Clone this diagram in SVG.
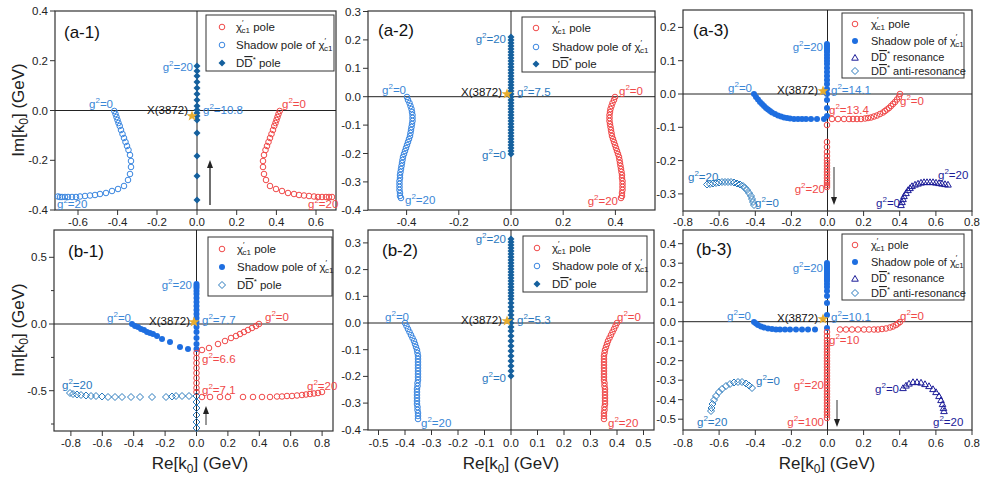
<svg xmlns="http://www.w3.org/2000/svg" width="981" height="480" viewBox="0 0 981 480">
<style>
text{font-family:"Liberation Sans",Arial,sans-serif}
.tk{font-size:11.5px;fill:#222}
.ye{text-anchor:end}
.xm{text-anchor:middle}
.fr{fill:none;stroke:#333;stroke-width:1.2}
.zl{stroke:#222;stroke-width:1;fill:none}
.tm{stroke:#333;stroke-width:1;fill:none}
.pl{font-size:17px;fill:#111}
.lb{font-size:11.5px}
.r{fill:#f04848}.b{fill:#3a86d6}.d{fill:#2a78be}.n{fill:#1c1c98}.k{fill:#111}
.e{text-anchor:end}
.s{fill:none;stroke:none}
.ro{marker-start:url(#mRo);marker-mid:url(#mRo);marker-end:url(#mRo)}
.bo{marker-start:url(#mBo);marker-mid:url(#mBo);marker-end:url(#mBo)}
.bf{marker-start:url(#mBf);marker-mid:url(#mBf);marker-end:url(#mBf)}
.df{marker-start:url(#mDf);marker-mid:url(#mDf);marker-end:url(#mDf)}
.do{marker-start:url(#mDo);marker-mid:url(#mDo);marker-end:url(#mDo)}
.to{marker-start:url(#mTo);marker-mid:url(#mTo);marker-end:url(#mTo)}
.lg{fill:#fff;stroke:#333;stroke-width:1}
.lt{font-size:11.5px;fill:#222}
.ax{font-size:17px;fill:#222}
.ar{stroke:#222;stroke-width:1.3;fill:none;marker-end:url(#ah)}
</style>
<defs>
<marker id="mRo" markerUnits="userSpaceOnUse" markerWidth="10" markerHeight="10" refX="5" refY="5" viewBox="0 0 10 10"><circle cx="5" cy="5" r="2.8" fill="none" stroke="#f04848" stroke-width="1"/></marker>
<marker id="mBo" markerUnits="userSpaceOnUse" markerWidth="10" markerHeight="10" refX="5" refY="5" viewBox="0 0 10 10"><circle cx="5" cy="5" r="2.8" fill="none" stroke="#3a86e0" stroke-width="1"/></marker>
<marker id="mBf" markerUnits="userSpaceOnUse" markerWidth="10" markerHeight="10" refX="5" refY="5" viewBox="0 0 10 10"><circle cx="5" cy="5" r="3" fill="#1e6ee0"/></marker>
<marker id="mDf" markerUnits="userSpaceOnUse" markerWidth="10" markerHeight="10" refX="5" refY="5" viewBox="0 0 10 10"><path d="M5 1.5 8.5 5 5 8.5 1.5 5Z" fill="#15609e"/></marker>
<marker id="mDo" markerUnits="userSpaceOnUse" markerWidth="10" markerHeight="10" refX="5" refY="5" viewBox="0 0 10 10"><path d="M5 1.5 8.5 5 5 8.5 1.5 5Z" fill="none" stroke="#2a7abd" stroke-width="1"/></marker>
<marker id="mTo" markerUnits="userSpaceOnUse" markerWidth="10" markerHeight="10" refX="5" refY="5" viewBox="0 0 10 10"><path d="M5 1.8 8.3 7.6 1.7 7.6Z" fill="none" stroke="#1c1c98" stroke-width="1"/></marker>
<marker id="ah" markerUnits="userSpaceOnUse" markerWidth="8" markerHeight="10" refX="4" refY="9" viewBox="0 0 8 10" orient="auto-start-reverse"><path d="M0 0" /></marker>
<path id="star" d="M0-5.5 1.5-1.7 5.5-1.7 2.3 0.7 3.4 4.6 0 2.3-3.4 4.6-2.3 0.7-5.5-1.7-1.5-1.7Z" fill="#e8ad2e"/>
</defs>
<rect width="981" height="480" fill="#fff"/>

<!-- axis titles -->
<text class="ax" transform="translate(24,110) rotate(-90)" text-anchor="middle">Im[k<tspan font-size="12" dy="4">0</tspan><tspan dy="-4">] (GeV)</tspan></text>
<text class="ax" transform="translate(24,330) rotate(-90)" text-anchor="middle">Im[k<tspan font-size="12" dy="4">0</tspan><tspan dy="-4">] (GeV)</tspan></text>
<text class="ax" x="200" y="469" text-anchor="middle">Re[k<tspan font-size="12" dy="4">0</tspan><tspan dy="-4">] (GeV)</tspan></text>
<text class="ax" x="511" y="469" text-anchor="middle">Re[k<tspan font-size="12" dy="4">0</tspan><tspan dy="-4">] (GeV)</tspan></text>
<text class="ax" x="827" y="469" text-anchor="middle">Re[k<tspan font-size="12" dy="4">0</tspan><tspan dy="-4">] (GeV)</tspan></text>

<!-- ===== a-1 ===== -->
<g id="a1-axes">
<rect class="fr" x="55" y="11" width="281" height="199"/>
<path class="zl" d="M55 110.5H336M197 11V210"/>
<path class="tm" d="M50 11H55M50 60.7H55M50 110.5H55M50 160.3H55M50 210H55M78 210V215M117.6 210V215M157 210V215M197 210V215M236.7 210V215M276.4 210V215M316 210V215"/>
<g class="tk ye"><text x="48" y="15">0.4</text><text x="48" y="64.7">0.2</text><text x="48" y="114.5">0.0</text><text x="48" y="164.3">-0.2</text><text x="48" y="214">-0.4</text></g>
<g class="tk xm"><text x="78" y="226">-0.6</text><text x="117.6" y="226">-0.4</text><text x="157" y="226">-0.2</text><text x="197" y="226">0.0</text><text x="236.7" y="226">0.2</text><text x="276.4" y="226">0.4</text><text x="316" y="226">0.6</text></g>
<text class="pl" x="64" y="38">(a-1)</text>
</g>
<g id="a1-data">
<polyline class="s bo" points="114.3,111 115.5,114 116.5,117 117.5,120 118.5,123 119.7,126 121,130 122.5,134 124,138 125.5,142 127,146 128.5,150 130,155 131,161 131,167 130,174 128,180 124,186 118,189 112,191 106,193 100,194 95,195 90,195.5 85,196 80,196.5 76,197 72,197 68,197 65,197 62,197 60,197 58,196.5"/>
<polyline class="s ro" points="279.7,111 278.5,114 277.5,117 276.5,120 275.5,123 274.3,126 273,130 271.5,134 270,138 268.5,142 267,146 265.5,150 264,155 263,161 263,167 264,174 266,180 270,186 276,189 282,191 288,193 294,194 299,195 304,195.5 309,196 314,196.5 318,197 322,197 326,197 329,197 332,197"/>
<polyline class="s df" points="197,200 197,176 197,156 197,133 197,120 197,116 197,113 197,110 197,106 197,100 197,94 197,88 197,82 197,76 197,71 197,66"/>
<use href="#star" x="192" y="116"/>
<text class="lb k e" x="188" y="114">X(3872)</text>
<text class="lb b" x="203" y="114">g<tspan font-size="8" dy="-5">2</tspan><tspan dy="5">=10.8</tspan></text>
<text class="lb b e" x="193" y="71">g<tspan font-size="8" dy="-5">2</tspan><tspan dy="5">=20</tspan></text>
<text class="lb b e" x="113" y="108">g<tspan font-size="8" dy="-5">2</tspan><tspan dy="5">=0</tspan></text>
<text class="lb b" x="57" y="208">g<tspan font-size="8" dy="-5">2</tspan><tspan dy="5">=20</tspan></text>
<text class="lb r" x="282" y="108">g<tspan font-size="8" dy="-5">2</tspan><tspan dy="5">=0</tspan></text>
<text class="lb r" x="308" y="208">g<tspan font-size="8" dy="-5">2</tspan><tspan dy="5">=20</tspan></text>
<path class="ar" d="M210 205V163"/><path d="M210 160l-3 8h6z" fill="#222"/>
</g>
<g id="a1-legend">
<rect class="lg" x="206" y="15" width="128" height="56"/>
<circle cx="222" cy="27" r="2.8" fill="none" stroke="#f04848"/>
<circle cx="222" cy="45" r="2.8" fill="none" stroke="#3a86e0"/>
<path d="M222 59.5 225.5 63 222 66.5 218.5 63Z" fill="#15609e"/>
<text class="lt" x="236" y="31">χ<tspan font-size="8" dy="-6">′</tspan><tspan font-size="8" dx="-2" dy="8">c1</tspan><tspan dy="-2"> pole</tspan></text>
<text class="lt" x="236" y="49">Shadow pole of χ<tspan font-size="8" dy="-6">′</tspan><tspan font-size="8" dx="-2" dy="8">c1</tspan></text>
<text class="lt" x="236" y="67">D<tspan text-decoration="overline">D</tspan><tspan font-size="8" dy="-5">*</tspan><tspan dy="5"> pole</tspan></text>
</g>

<!-- ===== a-2 ===== -->
<g id="a2-axes">
<rect class="fr" x="368" y="11" width="287" height="199"/>
<path class="zl" d="M368 96.7H655M511 11V210"/>
<path class="tm" d="M363 11.5H368M363 39.9H368M363 68.3H368M363 96.7H368M363 125.1H368M363 153.5H368M363 181.9H368M363 210.3H368M406.6 210V215M458.8 210V215M511 210V215M563.2 210V215M615.4 210V215"/>
<g class="tk ye"><text x="361" y="15.5">0.3</text><text x="361" y="43.9">0.2</text><text x="361" y="72.3">0.1</text><text x="361" y="100.7">0.0</text><text x="361" y="129.1">-0.1</text><text x="361" y="157.5">-0.2</text><text x="361" y="185.9">-0.3</text><text x="361" y="214">-0.4</text></g>
<g class="tk xm"><text x="406.6" y="226">-0.4</text><text x="458.8" y="226">-0.2</text><text x="511" y="226">0.0</text><text x="563.2" y="226">0.2</text><text x="615.4" y="226">0.4</text></g>
<text class="pl" x="378" y="36">(a-2)</text>
</g>
<g id="a2-data">
<polyline class="s bo" points="407,97 408,100 409.5,103 410.5,106 411.5,109 412,112 412.5,115 412.5,118 412.5,121 412,124 411.5,127 411,130 410.5,133 410,136 409,139 408,142 407,145 406,148 405,151 404,154 403,157 402.5,160 402,163 401.5,166 401,169 400.5,172 400,175 400,178 399.5,181 399.5,184 399.5,187 399.5,190 400,193 400,196 401,198"/>
<polyline class="s ro" points="615,97 614,100 612.5,103 611.5,106 610.5,109 610,112 609.5,115 609.5,118 609.5,121 610,124 610.5,127 611,130 611.5,133 612,136 613,139 614,142 615,145 616,148 617,151 618,154 619,157 619.5,160 620,163 620.5,166 621,169 621.5,172 622,175 622,178 622.5,181 622.5,184 622.5,187 622.5,190 622,193 622,196 621,198"/>
<polyline class="s df" points="511,154 511,151 511,148 511,145 511,142 511,139 511,136 511,133 511,130 511,127 511,124 511,121 511,118 511,115 511,112 511,109 511,106 511,103 511,100 511,97 511,94 511,91 511,88 511,85 511,82 511,79 511,76 511,73 511,70 511,67 511,64 511,61 511,58 511,55 511,52 511,49 511,46 511,43 511,40 511,37"/>
<use href="#star" x="507" y="94"/>
<text class="lb k e" x="502" y="96">X(3872)</text>
<text class="lb d" x="517" y="96">g<tspan font-size="8" dy="-5">2</tspan><tspan dy="5">=7.5</tspan></text>
<text class="lb d e" x="506" y="43">g<tspan font-size="8" dy="-5">2</tspan><tspan dy="5">=20</tspan></text>
<text class="lb d e" x="506" y="159">g<tspan font-size="8" dy="-5">2</tspan><tspan dy="5">=0</tspan></text>
<text class="lb b e" x="406" y="94">g<tspan font-size="8" dy="-5">2</tspan><tspan dy="5">=0</tspan></text>
<text class="lb b" x="405" y="204">g<tspan font-size="8" dy="-5">2</tspan><tspan dy="5">=20</tspan></text>
<text class="lb r" x="619" y="95">g<tspan font-size="8" dy="-5">2</tspan><tspan dy="5">=0</tspan></text>
<text class="lb r e" x="618" y="205">g<tspan font-size="8" dy="-5">2</tspan><tspan dy="5">=20</tspan></text>
</g>
<g id="a2-legend">
<rect class="lg" x="522" y="17" width="133" height="55"/>
<circle cx="536" cy="28" r="2.8" fill="none" stroke="#f04848"/>
<circle cx="536" cy="47" r="2.8" fill="none" stroke="#3a86e0"/>
<path d="M536 60.5 539.5 64 536 67.5 532.5 64Z" fill="#15609e"/>
<text class="lt" x="552" y="32">χ<tspan font-size="8" dy="-6">′</tspan><tspan font-size="8" dx="-2" dy="8">c1</tspan><tspan dy="-2"> pole</tspan></text>
<text class="lt" x="552" y="51">Shadow pole of χ<tspan font-size="8" dy="-6">′</tspan><tspan font-size="8" dx="-2" dy="8">c1</tspan></text>
<text class="lt" x="552" y="68">D<tspan text-decoration="overline">D</tspan><tspan font-size="8" dy="-5">*</tspan><tspan dy="5"> pole</tspan></text>
</g>

<!-- ===== a-3 ===== -->
<g id="a3-axes">
<rect class="fr" x="683" y="10" width="289" height="201"/>
<path class="zl" d="M683 94H972M827.5 10V211"/>
<path class="tm" d="M678 27.4H683M678 60.7H683M678 94H683M678 127.3H683M678 160.6H683M678 193.9H683M683 211V216M719.1 211V216M755.3 211V216M791.4 211V216M827.5 211V216M863.6 211V216M899.7 211V216M935.9 211V216M972 211V216"/>
<g class="tk ye"><text x="676" y="31.4">0.2</text><text x="676" y="64.7">0.1</text><text x="676" y="98">0.0</text><text x="676" y="131.3">-0.1</text><text x="676" y="164.6">-0.2</text><text x="676" y="197.9">-0.3</text></g>
<g class="tk xm"><text x="683" y="226">-0.8</text><text x="719.1" y="226">-0.6</text><text x="755.3" y="226">-0.4</text><text x="791.4" y="226">-0.2</text><text x="827.5" y="226">0.0</text><text x="863.6" y="226">0.2</text><text x="899.7" y="226">0.4</text><text x="935.9" y="226">0.6</text><text x="972" y="226">0.8</text></g>
<text class="pl" x="693" y="36">(a-3)</text>
</g>
<g id="a3-data">
<polyline class="s bf" points="754,94 756,97 758,99.5 760,102 762,104 764,106 766,108 768,109.5 770,111 772,112.5 775,114 778,115.5 781,116.5 784,117.5 787,118 790,118.5 794,119 798,119 802,119 806,119 811,119 817,119 824,119 827,116 827,108 827,100 827,94 827,89 827,84 827,80 827,76 827,72 827,68 827,64 827,61 827,58 827,55 827,52 827,50 827,48 827,46 827,44"/>
<polyline class="s ro" points="900,94 899,97 897,99.5 895,102 893,104 891,106 889,108 887,109.5 885,111 883,112.5 880,114 877,115.5 874,116.5 871,117.5 868,118 865,118.5 861,119 857,119 853,119 849,119 844,119 838,119 832,119 827,125 827,142 827,147 827,152 827,156 827,160 827,163 827,166 827,169 827,172 827,175 827,178 827,181 827,183 827,185 827,187"/>
<polyline class="s do" points="754,205 753,202 752,199 751,196 749,193 747,190 745,188 743,186 740,184.5 737,183.5 734,182.5 731,182 728,182 725,182 722,182 719,182.5 716,183 713,183.5 710,184 707,184.5"/>
<polyline class="s to" points="901,205 902,202 903,199 904,196 906,193 908,190 910,188 912,186 915,184.5 918,183.5 921,182.5 924,182 927,182 930,182 933,182 936,182.5 939,183 942,183.5 945,184 948,184.5"/>
<use href="#star" x="823" y="91"/>
<text class="lb k e" x="818" y="94">X(3872)</text>
<text class="lb b" x="831" y="94">g<tspan font-size="8" dy="-5">2</tspan><tspan dy="5">=14.1</tspan></text>
<text class="lb b e" x="823" y="51">g<tspan font-size="8" dy="-5">2</tspan><tspan dy="5">=20</tspan></text>
<text class="lb b e" x="752" y="92">g<tspan font-size="8" dy="-5">2</tspan><tspan dy="5">=0</tspan></text>
<text class="lb r" x="829" y="114">g<tspan font-size="8" dy="-5">2</tspan><tspan dy="5">=13.4</tspan></text>
<text class="lb r" x="900" y="105">g<tspan font-size="8" dy="-5">2</tspan><tspan dy="5">=0</tspan></text>
<text class="lb r e" x="825" y="193">g<tspan font-size="8" dy="-5">2</tspan><tspan dy="5">=20</tspan></text>
<text class="lb d" x="688" y="181">g<tspan font-size="8" dy="-5">2</tspan><tspan dy="5">=20</tspan></text>
<text class="lb d" x="755" y="207">g<tspan font-size="8" dy="-5">2</tspan><tspan dy="5">=0</tspan></text>
<text class="lb n e" x="900" y="207">g<tspan font-size="8" dy="-5">2</tspan><tspan dy="5">=0</tspan></text>
<text class="lb n" x="938" y="179">g<tspan font-size="8" dy="-5">2</tspan><tspan dy="5">=20</tspan></text>
<path class="tm" d="M834 167V199"/><path d="M834 205l-3-8h6z" fill="#222"/>
</g>
<g id="a3-legend">
<rect class="lg" x="842" y="13" width="122" height="65"/>
<circle cx="855" cy="24" r="2.8" fill="none" stroke="#f04848"/>
<circle cx="855" cy="41" r="3" fill="#1e6ee0"/>
<path d="M855 54.5 858.3 60.2 851.7 60.2Z" fill="none" stroke="#1c1c98"/>
<path d="M855 67.5 858.5 71 855 74.5 851.5 71Z" fill="none" stroke="#2a7abd"/>
<text class="lt" x="871" y="28" font-size="11">χ<tspan font-size="8" dy="-6">′</tspan><tspan font-size="8" dx="-2" dy="8">c1</tspan><tspan dy="-2"> pole</tspan></text>
<text class="lt" x="871" y="45" style="font-size:11px">Shadow pole of χ<tspan font-size="8" dy="-6">′</tspan><tspan font-size="8" dx="-2" dy="8">c1</tspan></text>
<text class="lt" x="871" y="61" style="font-size:11px">D<tspan text-decoration="overline">D</tspan><tspan font-size="8" dy="-5">*</tspan><tspan dy="5"> resonance</tspan></text>
<text class="lt" x="871" y="75" style="font-size:11px">D<tspan text-decoration="overline">D</tspan><tspan font-size="8" dy="-5">*</tspan><tspan dy="5"> anti-resonance</tspan></text>
</g>

<!-- ===== b-1 ===== -->
<g id="b1-axes">
<rect class="fr" x="54" y="230" width="279" height="201"/>
<path class="zl" d="M54 324H333M196.5 230V431"/>
<path class="tm" d="M49 257.3H54M49 324H54M49 390.7H54M51 290.6H54M51 357.4H54M51 424H54M70.9 431V436M102.3 431V436M133.7 431V436M165.1 431V436M196.5 431V436M227.9 431V436M259.3 431V436M290.7 431V436M322.1 431V436"/>
<g class="tk ye"><text x="47" y="261.3">0.5</text><text x="47" y="328">0.0</text><text x="47" y="394.7">-0.5</text></g>
<g class="tk xm"><text x="70.9" y="447">-0.8</text><text x="102.3" y="447">-0.6</text><text x="133.7" y="447">-0.4</text><text x="165.1" y="447">-0.2</text><text x="196.5" y="447">0.0</text><text x="227.9" y="447">0.2</text><text x="259.3" y="447">0.4</text><text x="290.7" y="447">0.6</text><text x="322.1" y="447">0.8</text></g>
<text class="pl" x="68" y="257">(b-1)</text>
</g>
<g id="b1-data">
<polyline class="s bf" points="132,324 135,326 138,327 141,329 144,330 147,332 150,333 153,334 157,336 162,339 170,342 180,347 188,349 196.5,349 196.5,344 196.5,338 196.5,332 196.5,327 196.5,322 196.5,318 196.5,314 196.5,310 196.5,306 196.5,302 196.5,298 196.5,294 196.5,291 196.5,288 196.5,286 196.5,284"/>
<polyline class="s ro" points="259,324 256,326 252,328 248,330 244,332 240,334 236,336 231,338 225,341 218,344 209,348 202,350 196.5,353 196.5,358 196.5,363 196.5,368 196.5,373 196.5,378 196.5,383 196.5,388 196.5,392"/>
<polyline class="s ro" points="202,397 210,397 220,397 228,397 243,397 253,397 262,397 270,397 277,396.5 282,396.5 287,396 292,396 297,395.5 302,395 306,394.5 310,394 314,393.5 318,393 322,392"/>
<polyline class="s do" points="70,393 73,394 77,394.5 81,395 86,395.5 91,396 96,396 102,396.5 108,397 115,397 122,397 131,397 140,397 152,397 166,397 172,396.5 176,396 182,396 189,396 196.5,396 196.5,402 196.5,408 196.5,415 196.5,422 196.5,428"/>
<use href="#star" x="194" y="322"/>
<text class="lb k e" x="190" y="325">X(3872)</text>
<text class="lb b" x="202" y="324">g<tspan font-size="8" dy="-5">2</tspan><tspan dy="5">=7.7</tspan></text>
<text class="lb b e" x="192" y="289">g<tspan font-size="8" dy="-5">2</tspan><tspan dy="5">=20</tspan></text>
<text class="lb b e" x="131" y="322">g<tspan font-size="8" dy="-5">2</tspan><tspan dy="5">=0</tspan></text>
<text class="lb d" x="62" y="389">g<tspan font-size="8" dy="-5">2</tspan><tspan dy="5">=20</tspan></text>
<text class="lb r" x="265" y="321">g<tspan font-size="8" dy="-5">2</tspan><tspan dy="5">=0</tspan></text>
<text class="lb r" x="202" y="363">g<tspan font-size="8" dy="-5">2</tspan><tspan dy="5">=6.6</tspan></text>
<text class="lb r" x="202" y="394">g<tspan font-size="8" dy="-5">2</tspan><tspan dy="5">=7.1</tspan></text>
<text class="lb r" x="307" y="390">g<tspan font-size="8" dy="-5">2</tspan><tspan dy="5">=20</tspan></text>
<path class="tm" d="M206 425V413"/><path d="M206 406l-3 8h6z" fill="#222"/>
</g>
<g id="b1-legend">
<rect class="lg" x="208" y="237" width="124" height="59"/>
<circle cx="222" cy="249" r="2.8" fill="none" stroke="#f04848"/>
<circle cx="222" cy="267" r="3" fill="#1e6ee0"/>
<path d="M222 281.5 225.5 285 222 288.5 218.5 285Z" fill="none" stroke="#2a7abd"/>
<text class="lt" x="237" y="253">χ<tspan font-size="8" dy="-6">′</tspan><tspan font-size="8" dx="-2" dy="8">c1</tspan><tspan dy="-2"> pole</tspan></text>
<text class="lt" x="237" y="271">Shadow pole of χ<tspan font-size="8" dy="-6">′</tspan><tspan font-size="8" dx="-2" dy="8">c1</tspan></text>
<text class="lt" x="237" y="289">D<tspan text-decoration="overline">D</tspan><tspan font-size="8" dy="-5">*</tspan><tspan dy="5"> pole</tspan></text>
</g>

<!-- ===== b-2 ===== -->
<g id="b2-axes">
<rect class="fr" x="368" y="230" width="286" height="200"/>
<path class="zl" d="M368 323H654M511 230V430"/>
<path class="tm" d="M363 242.9H368M363 269.6H368M363 296.3H368M363 323H368M363 349.7H368M363 376.4H368M363 403.1H368M363 429.8H368M378.5 430V435M405 430V435M431.5 430V435M458 430V435M484.5 430V435M511 430V435M537.5 430V435M564 430V435M590.5 430V435M617 430V435M643.5 430V435"/>
<g class="tk ye"><text x="361" y="246.9">0.3</text><text x="361" y="273.6">0.2</text><text x="361" y="300.3">0.1</text><text x="361" y="327">0.0</text><text x="361" y="353.7">-0.1</text><text x="361" y="380.4">-0.2</text><text x="361" y="407.1">-0.3</text><text x="361" y="433.5">-0.4</text></g>
<g class="tk xm"><text x="378.5" y="447">-0.5</text><text x="405" y="447">-0.4</text><text x="431.5" y="447">-0.3</text><text x="458" y="447">-0.2</text><text x="484.5" y="447">-0.1</text><text x="511" y="447">0.0</text><text x="537.5" y="447">0.1</text><text x="564" y="447">0.2</text><text x="590.5" y="447">0.3</text><text x="617" y="447">0.4</text><text x="643.5" y="447">0.5</text></g>
<text class="pl" x="382" y="256">(b-2)</text>
</g>
<g id="b2-data">
<polyline class="s bo" points="405,323 406.5,326 408,329 409.5,332 411,335 412.5,338 414,341 415,344 416,347 417,350 417.5,353 418,356 418,359 418,362 418,365 418,368 418,371 418,374 418,377 418,380 417.5,383 417.5,386 417,389 417,392 417,395 417,398 417,401 417,404 417.5,407 417.5,410 418,413 418,416 418,419"/>
<polyline class="s ro" points="617,323 615.5,326 614,329 612.5,332 611,335 609.5,338 608,341 607,344 606,347 605,350 604.5,353 604,356 604,359 604,362 604,365 604,368 604,371 604,374 604,377 604,380 604.5,383 604.5,386 605,389 605,392 605,395 605,398 605,401 605,404 604.5,407 604.5,410 604,413 604,416 604,419"/>
<polyline class="s df" points="511,376 511,371 511,366 511,361 511,356 511,351 511,346 511,341 511,336 511,331 511,327 511,323 511,319 511,315 511,311 511,307 511,303 511,299 511,296 511,293 511,290 511,287 511,284 511,281 511,278 511,275 511,272 511,269 511,266 511,263 511,260 511,257 511,254 511,251 511,248 511,245 511,242 511,239"/>
<use href="#star" x="507" y="321"/>
<text class="lb k e" x="502" y="324">X(3872)</text>
<text class="lb d" x="517" y="324">g<tspan font-size="8" dy="-5">2</tspan><tspan dy="5">=5.3</tspan></text>
<text class="lb d e" x="506" y="243">g<tspan font-size="8" dy="-5">2</tspan><tspan dy="5">=20</tspan></text>
<text class="lb d e" x="506" y="382">g<tspan font-size="8" dy="-5">2</tspan><tspan dy="5">=0</tspan></text>
<text class="lb b e" x="409" y="321">g<tspan font-size="8" dy="-5">2</tspan><tspan dy="5">=0</tspan></text>
<text class="lb b" x="421" y="427">g<tspan font-size="8" dy="-5">2</tspan><tspan dy="5">=20</tspan></text>
<text class="lb r" x="617" y="321">g<tspan font-size="8" dy="-5">2</tspan><tspan dy="5">=0</tspan></text>
<text class="lb r" x="608" y="427">g<tspan font-size="8" dy="-5">2</tspan><tspan dy="5">=20</tspan></text>
</g>
<g id="b2-legend">
<rect class="lg" x="523" y="236" width="124" height="56"/>
<circle cx="537" cy="248" r="2.8" fill="none" stroke="#f04848"/>
<circle cx="537" cy="266" r="2.8" fill="none" stroke="#3a86e0"/>
<path d="M537 280.5 540.5 284 537 287.5 533.5 284Z" fill="#15609e"/>
<text class="lt" x="552" y="252">χ<tspan font-size="8" dy="-6">′</tspan><tspan font-size="8" dx="-2" dy="8">c1</tspan><tspan dy="-2"> pole</tspan></text>
<text class="lt" x="552" y="270">Shadow pole of χ<tspan font-size="8" dy="-6">′</tspan><tspan font-size="8" dx="-2" dy="8">c1</tspan></text>
<text class="lt" x="552" y="288">D<tspan text-decoration="overline">D</tspan><tspan font-size="8" dy="-5">*</tspan><tspan dy="5"> pole</tspan></text>
</g>

<!-- ===== b-3 ===== -->
<g id="b3-axes">
<rect class="fr" x="683" y="230" width="289" height="200"/>
<path class="zl" d="M683 321.7H972M827.5 230V430"/>
<path class="tm" d="M678 243.7H683M678 263.2H683M678 282.7H683M678 302.2H683M678 321.7H683M678 341.2H683M678 360.7H683M678 380.2H683M678 399.7H683M678 419.2H683M683 430V435M719.1 430V435M755.3 430V435M791.4 430V435M827.5 430V435M863.6 430V435M899.7 430V435M935.9 430V435M972 430V435"/>
<g class="tk ye"><text x="676" y="247.7">0.4</text><text x="676" y="267.2">0.3</text><text x="676" y="286.7">0.2</text><text x="676" y="306.2">0.1</text><text x="676" y="325.7">0.0</text><text x="676" y="345.2">-0.1</text><text x="676" y="364.7">-0.2</text><text x="676" y="384.2">-0.3</text><text x="676" y="403.7">-0.4</text><text x="676" y="423.2">-0.5</text></g>
<g class="tk xm"><text x="683" y="447">-0.8</text><text x="719.1" y="447">-0.6</text><text x="755.3" y="447">-0.4</text><text x="791.4" y="447">-0.2</text><text x="827.5" y="447">0.0</text><text x="863.6" y="447">0.2</text><text x="899.7" y="447">0.4</text><text x="935.9" y="447">0.6</text><text x="972" y="447">0.8</text></g>
<text class="pl" x="696" y="255">(b-3)</text>
</g>
<g id="b3-data">
<polyline class="s bf" points="754,322 756,323.5 758,325 761,326.5 764,327.5 768,328.5 772,329 776,329.5 780,329.5 785,329.5 790,329.5 796,329.5 802,329.5 808,329.5 815,329.5 827,328 827,315 827,303 827,296 827,291 827,287 827,284 827,281 827,279 827,277 827,275 827,273 827,271 827,269 827,267 827,265 827,263"/>
<polyline class="s ro" points="900,322 898,323.5 896,325 893,326.5 890,327.5 886,328.5 882,329 878,329.5 874,329.5 869,329.5 864,329.5 858,329.5 852,329.5 846,329.5 840,329.5 827,332 827,336 827,340 827,343 827,346 827,349 827,352 827,355 827,358 827,361 827,364 827,367 827,370 827,373 827,376 827,379 827,382 827,385 827,388 827,391 827,394 827,397 827,400 827,403 827,406 827,409 827,412 827,415 827,418"/>
<polyline class="s do" points="752,388 749,385.5 746,383.5 742,382 738,382 734,382.5 730,384 726,386 722,389 719,392 716,396 714,400 712.5,404 711.5,408 711,411"/>
<polyline class="s to" points="903,388 906,385.5 909,383.5 913,382 917,382 921,382.5 925,384 929,386 933,389 936,392 939,396 941,400 942.5,404 943.5,408 944,411"/>
<use href="#star" x="823" y="319"/>
<text class="lb k e" x="818" y="322">X(3872)</text>
<text class="lb b" x="831" y="321">g<tspan font-size="8" dy="-5">2</tspan><tspan dy="5">=10.1</tspan></text>
<text class="lb b e" x="823" y="272">g<tspan font-size="8" dy="-5">2</tspan><tspan dy="5">=20</tspan></text>
<text class="lb b e" x="751" y="320">g<tspan font-size="8" dy="-5">2</tspan><tspan dy="5">=0</tspan></text>
<text class="lb r" x="900" y="320">g<tspan font-size="8" dy="-5">2</tspan><tspan dy="5">=0</tspan></text>
<text class="lb r" x="829" y="344">g<tspan font-size="8" dy="-5">2</tspan><tspan dy="5">=10</tspan></text>
<text class="lb r e" x="824" y="389">g<tspan font-size="8" dy="-5">2</tspan><tspan dy="5">=20</tspan></text>
<text class="lb r e" x="824" y="426">g<tspan font-size="8" dy="-5">2</tspan><tspan dy="5">=100</tspan></text>
<text class="lb d" x="756" y="385">g<tspan font-size="8" dy="-5">2</tspan><tspan dy="5">=0</tspan></text>
<text class="lb d" x="697" y="426">g<tspan font-size="8" dy="-5">2</tspan><tspan dy="5">=20</tspan></text>
<text class="lb n e" x="899" y="393">g<tspan font-size="8" dy="-5">2</tspan><tspan dy="5">=0</tspan></text>
<text class="lb n" x="933" y="426">g<tspan font-size="8" dy="-5">2</tspan><tspan dy="5">=20</tspan></text>
<path class="tm" d="M837 400V420"/><path d="M837 427l-3-8h6z" fill="#222"/>
</g>
<g id="b3-legend">
<rect class="lg" x="842" y="234" width="122" height="66"/>
<circle cx="855" cy="245" r="2.8" fill="none" stroke="#f04848"/>
<circle cx="855" cy="262" r="3" fill="#1e6ee0"/>
<path d="M855 275.5 858.3 281.2 851.7 281.2Z" fill="none" stroke="#1c1c98"/>
<path d="M855 289.5 858.5 293 855 296.5 851.5 293Z" fill="none" stroke="#2a7abd"/>
<text class="lt" x="871" y="249" style="font-size:11px">χ<tspan font-size="8" dy="-6">′</tspan><tspan font-size="8" dx="-2" dy="8">c1</tspan><tspan dy="-2"> pole</tspan></text>
<text class="lt" x="871" y="266" style="font-size:11px">Shadow pole of χ<tspan font-size="8" dy="-6">′</tspan><tspan font-size="8" dx="-2" dy="8">c1</tspan></text>
<text class="lt" x="871" y="282" style="font-size:11px">D<tspan text-decoration="overline">D</tspan><tspan font-size="8" dy="-5">*</tspan><tspan dy="5"> resonance</tspan></text>
<text class="lt" x="871" y="297" style="font-size:11px">D<tspan text-decoration="overline">D</tspan><tspan font-size="8" dy="-5">*</tspan><tspan dy="5"> anti-resonance</tspan></text>
</g>
</svg>
